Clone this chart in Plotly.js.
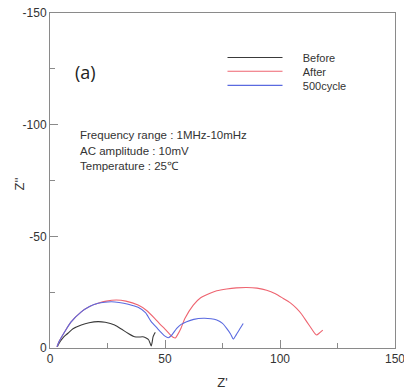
<!DOCTYPE html>
<html>
<head>
<meta charset="utf-8">
<script src="https://cdn.plot.ly/plotly-3.0.1.min.js"></script>
<style>html,body{margin:0;padding:0;background:#fff;}#chart{width:404px;height:390px;}</style>
</head>
<body>
<div id="chart"></div>
<script>
const seriesNames = ["Before", "After", "500cycle"];

const beforeX = [3.2, 4.5, 6, 7.8, 10, 13.6, 17, 20.9, 24, 28.1, 31, 33.9, 36.8, 38.5, 40.4, 42, 42.8, 43.5, 44, 44.4, 44.8, 45.3, 45.8];
const beforeY = [-0.6, -3, -5, -6.6, -8.6, -10.3, -11.3, -11.8, -11.5, -10.3, -8.5, -6.6, -5, -4.9, -5, -4.4, -3.8, -2.2, -0.9, -2.5, -5, -6.2, -7];

const afterX = [3, 4, 6.4, 9, 13.6, 17, 20.9, 24.5, 28.8, 33, 38.3, 42, 45.5, 48, 50, 52, 53.5, 54.5, 55.5, 57, 58.7, 62.3, 65.5, 69.6, 72.5, 76.8, 81, 85.5, 90, 94.2, 98, 101.4, 104.5, 107.2, 109.5, 111.6, 113.8, 115.3, 116, 117, 118.6];
const afterY = [-0.5, -3, -7.3, -11.5, -16.2, -18.5, -20, -21, -21.5, -21, -19.2, -16.8, -13.3, -10.5, -8.5, -6.2, -4.8, -4.5, -6, -9, -13.3, -19.2, -22.5, -24.5, -25.6, -26.4, -26.9, -27.1, -26.8, -25.9, -24.3, -22.2, -20.2, -17.7, -15, -11.8, -8.5, -6.3, -5.8, -6.6, -8];

const cycleX = [3, 4, 6.4, 9, 13.6, 17, 20.9, 23.8, 26.7, 30, 34, 38.3, 41.5, 44, 46.5, 48.5, 50, 51.4, 52.8, 55.1, 57, 59.4, 62.5, 66.7, 70, 72.5, 75, 76.8, 78.5, 79.7, 81, 82.5, 84];
const cycleY = [-0.5, -3, -7.3, -11.5, -16.2, -18.5, -20, -20.5, -20.7, -20.4, -19.6, -18.2, -15.8, -11.8, -9, -6.8, -5.3, -4.6, -5.6, -8.8, -10.6, -11.8, -12.8, -13.3, -13.1, -12.5, -11, -8.8, -6.3, -4, -6, -8.5, -11];

const xTicks = [0, 50, 100, 150];
const yTicks = [0, -50, -100, -150];
const yTickText = ["0", "-50", "-100", "-150"];

const panelLabel = "(a)";
const notes = ["Frequency range : 1MHz-10mHz", "AC amplitude : 10mV", "Temperature : 25℃"];
const xTitle = "Z'";
const yTitle = "Z''";

const colors = ["#3a3a3a", "#ee6470", "#5a6ae0"];
const xs = [beforeX, afterX, cycleX];
const ys = [beforeY, afterY, cycleY];
const legendIds = ["legend", "legend2", "legend3"];
const pad = "\u00a0\u00a0\u00a0\u00a0\u00a0";

const traces = seriesNames.map((n, i) => ({
  type: "scatter", mode: "lines", name: pad + n, x: xs[i], y: ys[i], legend: legendIds[i],
  line: {color: colors[i], width: 1.1, shape: "spline", smoothing: 0.6}
}));

const armFont = "Liberation Sans, Arial, sans-serif";
const noteYs = [-95.2, -88.1, -81.4];
const annotations = [
  {x: 10, y: -123.4, xref: "x", yref: "y", text: panelLabel, showarrow: false, xanchor: "left", yanchor: "middle",
   font: {family: "Open Sans, Noto Sans, sans-serif", size: 18, color: "#222"}},
  {x: -0.088, y: 0.49, xref: "paper", yref: "paper", text: yTitle, showarrow: false, textangle: -90,
   xanchor: "center", yanchor: "middle", font: {family: armFont, size: 13, color: "#333"}}
].concat(notes.map((t, i) => ({
  x: 12.2, y: noteYs[i], xref: "x", yref: "y", text: t, showarrow: false, xanchor: "left", yanchor: "middle",
  font: {family: armFont, size: 11.5, color: "#333"}
})));

const axisCommon = {
  showgrid: false, zeroline: false, showline: true, linecolor: "#8a8a8a", linewidth: 1, mirror: true,
  ticks: "inside", ticklen: 8, tickcolor: "#8a8a8a", tickwidth: 1, ticklabeloverflow: "allow",
  tickfont: {family: armFont, size: 12, color: "#333"},
  minor: {dtick: 25, ticks: "inside", ticklen: 5, tickcolor: "#8a8a8a", tickwidth: 1}
};

const legendBase = {x: 0.5, xanchor: "left", yanchor: "middle", bgcolor: "rgba(0,0,0,0)",
  font: {family: armFont, size: 11, color: "#333"}, itemwidth: 55};
const legendYs = [0.867, 0.826, 0.784];

const layout = {
  width: 404, height: 390,
  margin: {l: 50, r: 9, t: 12.5, b: 42},
  paper_bgcolor: "#fff", plot_bgcolor: "#fff",
  showlegend: true,
  xaxis: Object.assign({}, axisCommon, {range: [0, 150], tickvals: xTicks, ticktext: xTicks.map(String),
    title: {text: xTitle, font: {family: armFont, size: 13, color: "#333"}, standoff: 13}}),
  yaxis: Object.assign({}, axisCommon, {range: [0, -150], tickvals: yTicks, ticktext: yTickText}),
  annotations: annotations
};
legendIds.forEach((id, i) => { layout[id] = Object.assign({}, legendBase, {y: legendYs[i]}); });

Plotly.newPlot("chart", traces, layout, {displayModeBar: false, staticPlot: true});
</script>
</body>
</html>
